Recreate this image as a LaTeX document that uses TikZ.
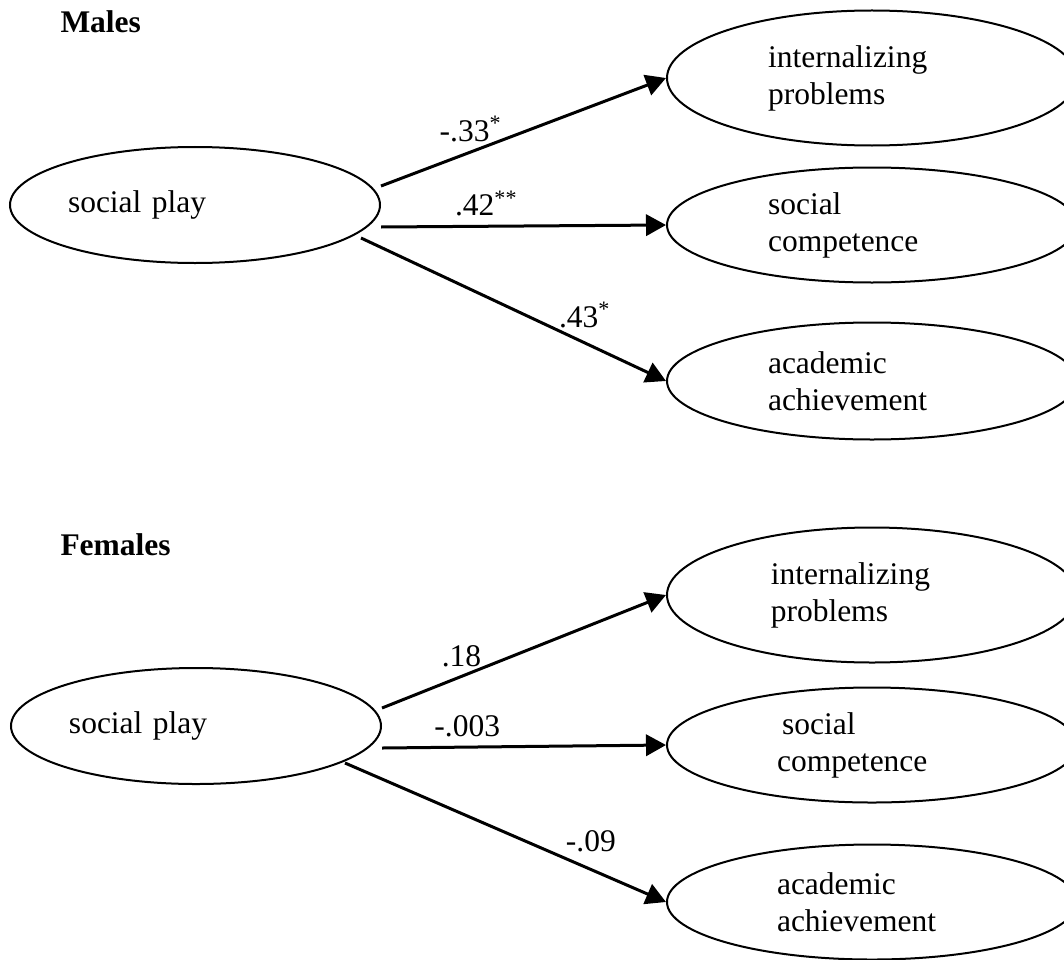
\documentclass[tikz,border=0pt]{standalone}
\usepackage{fontspec}
\setmainfont{Liberation Serif}
\usetikzlibrary{arrows.meta,shapes.geometric}

\tikzstyle{cause} = [ellipse, draw, line width=0.8pt, minimum width=148pt, minimum height=46.4pt, inner sep=0pt, text width=101.6pt, align=left]
\tikzstyle{effect} = [ellipse, draw, line width=0.8pt, minimum width=164pt, minimum height=46pt, inner sep=0pt, text width=83.2pt, align=left]
\tikzstyle{group} = [font=\fontsize{12.6pt}{14.8pt}\selectfont\bfseries, anchor=base west, inner sep=0pt]
\tikzstyle{link} = [line width=1.2pt, -{Triangle[length=8pt,width=8.5pt]}]

\begin{document}
\begin{tikzpicture}[x=0.4pt, y=-0.4pt, font=\fontsize{12.6pt}{14.8pt}\selectfont]
\clip (0,0) rectangle (1064,959);

% males
\node[group] (mtitle) at (60,33) {Males};
\node[cause] (msp) at (195,205) {social play};
\node[effect, minimum height=54pt] (mip) at (872,78) {internalizing\\problems};
\node[effect] (msc) at (872,225) {social\\competence};
\node[effect, minimum height=46.8pt] (maa) at (872,381) {academic\\achievement};

\draw[link] ([yshift=7.6pt]msp.east) -- (mip.west)
    node[pos=0.315, above] {-.33\textsuperscript{*}};
\draw[link] ([yshift=-8.8pt]msp.east) -- (msc.west)
    node[pos=0.37, above] {.42\textsuperscript{**}};
\draw[link] ([xshift=-8pt, yshift=-13.2pt]msp.east) -- (maa.west)
    node[pos=0.734, above=2pt] {.43\textsuperscript{*}};

% females
\node[group] (ftitle) at (60,555) {Females};
\node[cause] (fsp) at (196,726) {social play};
\node[effect, minimum height=54pt, text width=81pt] (fip) at (872,595) {internalizing\\problems};
\node[effect, text width=76pt] (fsc) at (872,745) {\hspace{2pt}social\\competence};
\node[effect, text width=76pt] (faa) at (872,902) {academic\\achievement};

\draw[link] ([yshift=7.2pt]fsp.east) -- (fip.west)
    node[pos=0.28, above] {.18};
\draw[link] ([yshift=-8.8pt]fsp.east) -- (fsc.west)
    node[pos=0.30, above] {-.003};
\draw[link] ([xshift=-14.8pt, yshift=-14.8pt]fsp.east) -- (faa.west)
    node[pos=0.766, above=3pt] {-.09};
\end{tikzpicture}
\end{document}
